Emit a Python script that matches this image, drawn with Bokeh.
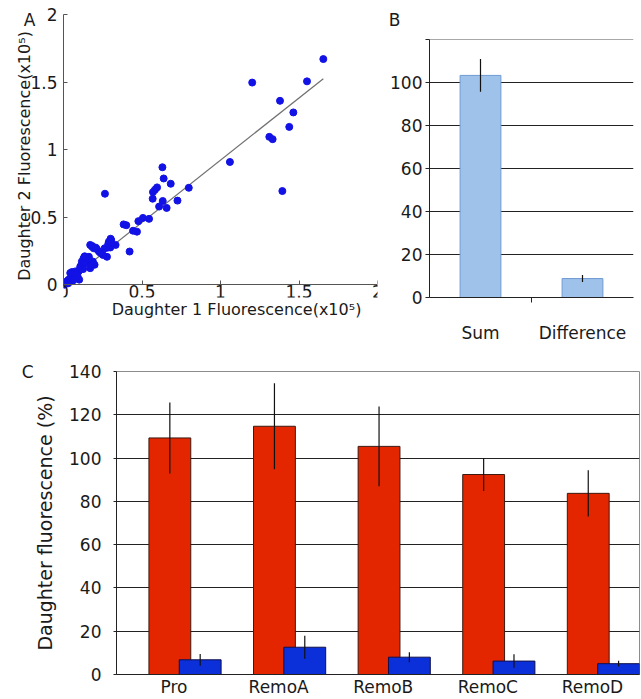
from bokeh.plotting import figure
from bokeh.layouts import column, row
from bokeh.models import FixedTicker, Range1d, LinearAxis, Grid
from bokeh.embed import file_html
from bokeh.resources import INLINE

FONT = "DejaVu Sans"
TXT = "#1a1a1a"

# ---------------- Panel A data (x10^5) ----------------
daughter1 = [1.655, 1.551, 1.202, 1.379, 1.464, 1.438, 1.311, 1.332, 1.060, 1.394,
             0.798, 0.726, 0.683, 0.638, 0.630, 0.596, 0.583, 0.570, 0.568, 0.632,
             0.609, 0.657, 0.264, 0.545, 0.506, 0.477, 0.468, 0.443, 0.400, 0.383,
             0.421, 0.332, 0.300, 0.289, 0.281, 0.277, 0.262, 0.251, 0.226, 0.213,
             0.206, 0.183, 0.170, 0.198, 0.187, 0.162, 0.153, 0.170, 0.128, 0.117,
             0.115, 0.106, 0.096, 0.085, 0.100, 0.074, 0.053, 0.053, 0.032, 0.021,
             0.006, 0.064, 0.043, 0.298, 0.304, 0.181, 0.192, 0.149, 0.107, 0.075,
             0.043, 0.011, 0.140, 0.125, 0.090, 0.060, 0.030, 0.160, 0.235, 0.285,
             0.135]
daughter2 = [1.670, 1.505, 1.496, 1.361, 1.275, 1.168, 1.094, 1.077, 0.908, 0.693,
             0.717, 0.622, 0.747, 0.786, 0.869, 0.720, 0.703, 0.685, 0.636, 0.619,
             0.578, 0.568, 0.673, 0.487, 0.494, 0.470, 0.392, 0.399, 0.440, 0.446,
             0.245, 0.294, 0.340, 0.318, 0.274, 0.206, 0.269, 0.220, 0.245, 0.262,
             0.274, 0.286, 0.294, 0.147, 0.171, 0.206, 0.171, 0.122, 0.196, 0.171,
             0.147, 0.122, 0.098, 0.086, 0.037, 0.073, 0.093, 0.049, 0.037, 0.012,
             0.000, 0.061, 0.024, 0.275, 0.330, 0.282, 0.270, 0.180, 0.135, 0.098,
             0.086, 0.020, 0.160, 0.115, 0.060, 0.030, 0.010, 0.190, 0.235, 0.300,
             0.210]
fit_x = [0.0, 1.655]
fit_y = [0.0, 1.525]
a_ticks = [0, 0.5, 1, 1.5, 2]
a_tick_labels = ["0", "0.5", "1", "1.5", "2"]
a_xlabel = "Daughter 1 Fluorescence(x10\u2075)"
a_ylabel = "Daughter 2 Fluorescence(x10\u2075)"

# ---------------- Panel B data ----------------
b_categories = ["Sum", "Difference"]
b_values = [103.2, 8.8]
b_errors = [7.6, 1.6]
b_yticks = [0, 20, 40, 60, 80, 100, 120]

# ---------------- Panel C data ----------------
c_categories = ["Pro", "RemoA", "RemoB", "RemoC", "RemoD"]
c_red = [109.3, 114.7, 105.4, 92.4, 83.7]
c_red_err = [16.4, 19.9, 18.4, 7.6, 10.7]
c_blue = [6.8, 12.6, 8.0, 6.2, 5.0]
c_blue_err = [2.7, 5.3, 2.3, 3.1, 1.3]
c_yticks = [0, 20, 40, 60, 80, 100, 120, 140]
c_ylabel = "Daughter fluorescence (%)"


def base_axis(ax, size="17px"):
    ax.major_label_text_font = FONT
    ax.major_label_text_font_size = size
    ax.major_label_text_color = TXT
    ax.axis_label_text_font = FONT
    ax.axis_label_text_font_style = "normal"
    ax.axis_label_text_color = TXT
    ax.minor_tick_line_color = None


def text_axis(p, side, pos, text, standoff, size="17px"):
    """An invisible axis carrying a single tick label used as free text."""
    ax = LinearAxis(ticker=FixedTicker(ticks=[pos]),
                    major_label_overrides={pos: text}, axis_line_color=None,
                    major_tick_line_color=None, minor_tick_line_color=None,
                    major_tick_in=0, major_tick_out=0,
                    major_label_standoff=standoff, major_label_text_font=FONT,
                    major_label_text_font_size=size, major_label_text_color=TXT)
    p.add_layout(ax, side)


# Both top-row figures share the same borders (frames are aligned in a row):
# frame from y=14 to y=300 in each 345 px tall figure.
TOP_H, TOP_BT, TOP_BB = 345, 14, 45
frame_h = TOP_H - TOP_BT - TOP_BB

# ---------------- Panel A ----------------
a_px_per_unit = 136.5
pA = figure(width=385, height=TOP_H, output_backend="svg", toolbar_location=None,
            x_range=Range1d(0, 2), y_range=Range1d(2 - frame_h / a_px_per_unit, 2),
            min_border_left=63, min_border_right=8, min_border_top=TOP_BT, min_border_bottom=TOP_BB)
pA.outline_line_color = None
pA.grid.visible = False
pA.line(fit_x, fit_y, line_color="#707070", line_width=1.2)
pA.scatter(daughter1, daughter2, size=7, fill_color="#1212e6", line_color="#1212e6")
for ax in (pA.xaxis[0], pA.yaxis[0]):
    base_axis(ax)
    ax.ticker = FixedTicker(ticks=a_ticks)
    ax.major_label_overrides = dict(zip(a_ticks, a_tick_labels))
    ax.major_tick_in = 4
    ax.major_tick_out = 0
    ax.axis_line_color = "#555555"
    ax.major_tick_line_color = "#555555"
pA.xaxis.fixed_location = 0
pA.xaxis.major_label_standoff = 0
pA.yaxis.bounds = (0, 2)
pA.yaxis.axis_label = a_ylabel
pA.yaxis.axis_label_text_font_size = "16px"
pA.yaxis.major_label_standoff = 6
pA.yaxis.axis_label_standoff = -7
text_axis(pA, "below", 1.102, a_xlabel, 2, size="16px")
text_axis(pA, "left", 1.96, "A", -23)

# ---------------- Panel B ----------------
b_px_per_unit = 2.175
b_x = [i + 0.5 for i in range(len(b_categories))]
pB = figure(width=256, height=TOP_H, output_backend="svg", toolbar_location=None,
            x_range=Range1d(0, len(b_categories)), y_range=Range1d(0, frame_h / b_px_per_unit),
            min_border_left=40, min_border_right=8, min_border_top=TOP_BT, min_border_bottom=TOP_BB)
pB.outline_line_color = None
pB.xgrid.visible = False
pB.ygrid.ticker = FixedTicker(ticks=b_yticks[1:-1])
pB.ygrid.grid_line_color = "#222222"
pB.ygrid.grid_line_width = 1.2
pB.add_layout(Grid(dimension=1, ticker=FixedTicker(ticks=[b_yticks[-1]]),
                   grid_line_color="#a8a8a8", grid_line_width=1))
pB.add_layout(Grid(dimension=0, ticker=FixedTicker(ticks=[len(b_categories)]),
                   bounds=(0, b_yticks[-1]), grid_line_color="#a8a8a8", grid_line_width=1))
pB.vbar(x=b_x, top=b_values, width=0.4, fill_color="#9fc2ea", line_color="#6e9bd3", line_width=1)
pB.segment(x0=b_x, y0=[v - e for v, e in zip(b_values, b_errors)],
           x1=b_x, y1=[v + e for v, e in zip(b_values, b_errors)],
           line_color="#111111", line_width=1.2)
base_axis(pB.xaxis[0])
base_axis(pB.yaxis[0])
pB.xaxis.ticker = FixedTicker(ticks=b_x, minor_ticks=[1.0])
pB.xaxis.major_label_overrides = dict(zip(b_x, b_categories))
pB.xaxis.major_tick_out = 0
pB.xaxis.major_tick_in = 0
pB.xaxis.minor_tick_line_color = "#222222"
pB.xaxis.minor_tick_out = 5
pB.xaxis.minor_tick_in = 0
pB.xaxis.major_label_standoff = 20
pB.xaxis.axis_line_color = "#222222"
pB.yaxis.ticker = FixedTicker(ticks=b_yticks)
pB.yaxis.bounds = (0, b_yticks[-1])
pB.yaxis.major_label_overrides = {120: ""}
pB.yaxis.major_tick_out = 4
pB.yaxis.major_tick_in = 0
pB.yaxis.major_label_standoff = 3
pB.yaxis.axis_line_color = "#222222"
pB.yaxis.major_tick_line_color = "#222222"
text_axis(pB, "left", 129.0, "B", -13)

# ---------------- Panel C ----------------
n = len(c_categories)
red_x = [i + 0.51 for i in range(n)]
blue_x = [i + 0.80 for i in range(n)]
lab_x = [i + 0.55 for i in range(n)]
pC = figure(width=641, height=354, output_backend="svg", toolbar_location=None,
            x_range=Range1d(0, n), y_range=Range1d(0, 140),
            min_border_left=116, min_border_right=2, min_border_top=26, min_border_bottom=23)
pC.outline_line_color = "#8c8c8c"
pC.xgrid.visible = False
pC.ygrid.ticker = FixedTicker(ticks=c_yticks[1:-1])
pC.ygrid.grid_line_color = "#222222"
pC.ygrid.grid_line_width = 1.2
pC.vbar(x=red_x, top=c_red, width=0.4, fill_color="#e42600", line_color="#3a1a10", line_width=1)
pC.segment(x0=red_x, y0=[v - e for v, e in zip(c_red, c_red_err)],
           x1=red_x, y1=[v + e for v, e in zip(c_red, c_red_err)],
           line_color="#111111", line_width=1.2)
pC.vbar(x=blue_x, top=c_blue, width=0.4, fill_color="#0b2fd9", line_color="#10104a", line_width=1)
pC.segment(x0=blue_x, y0=[v - e for v, e in zip(c_blue, c_blue_err)],
           x1=blue_x, y1=[v + e for v, e in zip(c_blue, c_blue_err)],
           line_color="#111111", line_width=1.2)
base_axis(pC.xaxis[0])
base_axis(pC.yaxis[0])
pC.xaxis.ticker = FixedTicker(ticks=lab_x)
pC.xaxis.major_label_overrides = dict(zip(lab_x, c_categories))
pC.xaxis.major_tick_out = 0
pC.xaxis.major_tick_in = 0
pC.xaxis.major_label_standoff = 2
pC.xaxis.axis_line_color = "#222222"
pC.xaxis.axis_line_width = 1.2
pC.yaxis.ticker = FixedTicker(ticks=c_yticks)
pC.yaxis.major_tick_out = 3
pC.yaxis.major_tick_in = 0
pC.yaxis.major_label_standoff = 12
pC.yaxis.axis_line_color = "#222222"
pC.yaxis.major_tick_line_color = "#222222"
pC.yaxis.axis_label = c_ylabel
pC.yaxis.axis_label_text_font_size = "19px"
pC.yaxis.axis_label_standoff = 10
text_axis(pC, "left", 140, "C", -2)

layout = column(row(pA, pB), pC)
open("out.html", "w").write(file_html(layout, INLINE))
